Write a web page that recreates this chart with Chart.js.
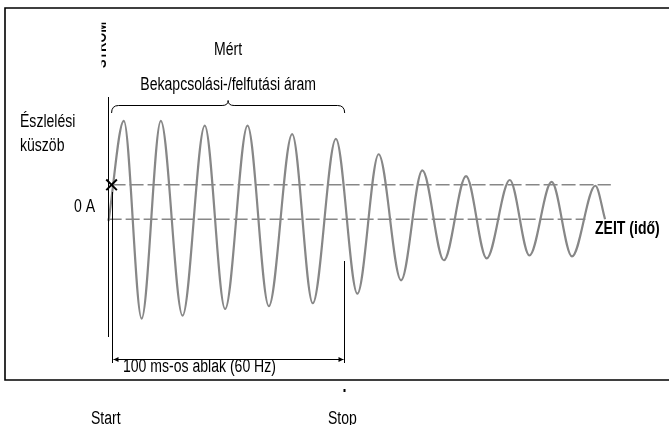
<!DOCTYPE html>
<html>
<head>
<meta charset="utf-8">
<script src="https://cdn.jsdelivr.net/npm/chart.js@4/dist/chart.umd.min.js"></script>
<style>
html,body{margin:0;padding:0;background:#fff;}
canvas{display:block;}
</style>
</head>
<body>
<canvas id="c" width="669" height="425"></canvas>
<script>
// ---- data ----
// time in ms (Start = 0 ms, Stop = 100 ms), current in arbitrary units (0 A = 0)
const waveTimeMs = [-1.7, 4.9, 12.6, 20.9, 30.3, 39.9, 48.7, 58.4, 67.6, 77.7, 86.6, 96.6,
  105.9, 115.1, 124.8, 134.0, 143.3, 152.9, 161.8, 171.8, 180.3, 189.9, 198.7, 208.8, 213.0];
const waveCurrent = [-0.2, 10.3, -10.4, 10.3, -10.1, 9.8, -9.4, 9.8, -9.1, 8.9, -8.8, 8.4,
  -7.8, 6.8, -6.4, 5.1, -4.3, 4.5, -4.1, 4.1, -3.8, 3.9, -3.9, 3.5, 0];
const thresholdA = 3.6;
const zeroA = 0;
const thresholdLineMs = [-0.4, 215.5];
const zeroLineMs = [-2.1, 204.5];
const windowMs = [0, 100];          // 100 ms window: Start / Stop
const detectionPointMs = [-0.4];
const labels = {
  measured: "Mért",
  inrush: "Bekapcsolási-/felfutási áram",
  thresholdL1: "Észlelési",
  thresholdL2: "küszöb",
  zero: "0 A",
  yAxis: "STROM",
  xAxis: "ZEIT (idő)",
  window: "100 ms-os ablak (60 Hz)",
  start: "Start",
  stop: "Stop"
};

const FONT = "'Liberation Sans', Arial, sans-serif";
const GRAY = '#878787';
const NARROW = 0.78;

function narrowText(ctx, text, x, y, align, bold) {
  ctx.save();
  ctx.font = (bold ? 'bold ' : '') + '18px ' + FONT;
  const w = ctx.measureText(text).width * NARROW;
  let left = x;
  if (align === 'center') left = x - w / 2;
  else if (align === 'right') left = x - w;
  ctx.translate(left, y);
  ctx.scale(NARROW, 1);
  ctx.textAlign = 'left';
  ctx.textBaseline = 'alphabetic';
  ctx.fillText(text, 0, 0);
  ctx.restore();
}

const decor = {
  id: 'decor',
  afterDatasetsDraw(chart) {
    const ctx = chart.ctx;
    const xs = chart.scales.x;
    const X = v => xs.getPixelForValue(v);
    ctx.save();
    ctx.strokeStyle = '#000';
    ctx.fillStyle = '#000';
    // outer frame
    ctx.lineWidth = 1.6;
    ctx.beginPath();
    ctx.moveTo(669, 8); ctx.lineTo(5, 8); ctx.lineTo(5, 380); ctx.lineTo(669, 380);
    ctx.stroke();
    // current axis
    const xAxisPx = X(zeroLineMs[0]);
    ctx.lineWidth = 1;
    ctx.beginPath();
    ctx.moveTo(Math.round(xAxisPx) + 0.5, 97); ctx.lineTo(Math.round(xAxisPx) + 0.5, 337);
    ctx.stroke();
    // start / stop lines
    const xs0 = Math.round(X(windowMs[0])) + 0.5, xs1 = Math.round(X(windowMs[1])) + 0.5;
    ctx.beginPath();
    ctx.moveTo(xs0, 192); ctx.lineTo(xs0, 363);
    ctx.moveTo(xs1, 261); ctx.lineTo(xs1, 363);
    ctx.stroke();
    ctx.fillRect(xs1 - 1, 389, 2, 3);
    // arrow
    const ay = 359.5;
    ctx.beginPath();
    ctx.moveTo(xs0 + 1, ay); ctx.lineTo(xs1 - 1, ay);
    ctx.stroke();
    ctx.beginPath();
    ctx.moveTo(xs0 + 1, ay); ctx.lineTo(xs0 + 6, ay - 2.5); ctx.lineTo(xs0 + 6, ay + 2.5); ctx.closePath();
    ctx.moveTo(xs1 - 1, ay); ctx.lineTo(xs1 - 6, ay - 2.5); ctx.lineTo(xs1 - 6, ay + 2.5); ctx.closePath();
    ctx.fill();
    // brace
    const bl = X(-0.4), br = X(100.4), bm = (bl + br) / 2, by = 105.5;
    ctx.lineWidth = 1;
    ctx.beginPath();
    ctx.moveTo(bl, 113);
    ctx.quadraticCurveTo(bl, by, bl + 7, by);
    ctx.lineTo(bm - 6, by);
    ctx.quadraticCurveTo(bm, by, bm, by - 5);
    ctx.quadraticCurveTo(bm, by, bm + 6, by);
    ctx.lineTo(br - 7, by);
    ctx.quadraticCurveTo(br, by, br, 113);
    ctx.stroke();
    // texts
    narrowText(ctx, labels.measured, bm, 55, 'center');
    narrowText(ctx, labels.inrush, bm, 90, 'center');
    narrowText(ctx, labels.thresholdL1, 20, 127, 'left');
    narrowText(ctx, labels.thresholdL2, 20, 151, 'left');
    narrowText(ctx, labels.window, 123, 372, 'left');
    narrowText(ctx, labels.start, 91, 424, 'left');
    narrowText(ctx, labels.stop, 328, 424, 'left');
    narrowText(ctx, labels.zero, 95, 212, 'right');
    narrowText(ctx, labels.xAxis, 595, 234, 'left', true);
    // rotated, partly clipped axis title
    ctx.save();
    ctx.beginPath();
    ctx.rect(101.5, 15, 10, 60);
    ctx.clip();
    ctx.translate(106, 68);
    ctx.rotate(-Math.PI / 2);
    ctx.scale(0.85, 1);
    ctx.font = 'bold 15px ' + FONT;
    ctx.fillText(labels.yAxis, 0, 0);
    ctx.restore();
    ctx.restore();
  }
};

const wave = waveTimeMs.map((t, i) => ({x: t, y: waveCurrent[i]}));
const thr = thresholdLineMs.map(t => ({x: t, y: thresholdA}));
const zer = zeroLineMs.map(t => ({x: t, y: zeroA}));
const det = detectionPointMs.map(t => ({x: t, y: thresholdA}));

new Chart(document.getElementById('c'), {
  type: 'line',
  data: {
    datasets: [
      {data: thr, borderColor: GRAY, borderWidth: 1.5, borderDash: [14, 4], pointRadius: 0, order: 3},
      {data: zer, borderColor: GRAY, borderWidth: 1.5, borderDash: [14, 4], pointRadius: 0, order: 3},
      {data: wave, borderColor: GRAY, borderWidth: 2.2, pointRadius: 0,
       cubicInterpolationMode: 'monotone', order: 2},
      {data: det, showLine: false, pointStyle: 'crossRot', pointRadius: 7.5,
       borderColor: '#000', borderWidth: 2, order: 1}
    ]
  },
  options: {
    responsive: false,
    devicePixelRatio: 1,
    animation: false,
    layout: {padding: 0},
    plugins: {legend: {display: false}, tooltip: {enabled: false}},
    scales: {
      x: {type: 'linear', display: false, min: -44.54, max: 236.55},
      y: {type: 'linear', display: false, min: -20.55, max: 21.95}
    },
    elements: {line: {tension: 0}}
  },
  plugins: [decor]
});
</script>
</body>
</html>
